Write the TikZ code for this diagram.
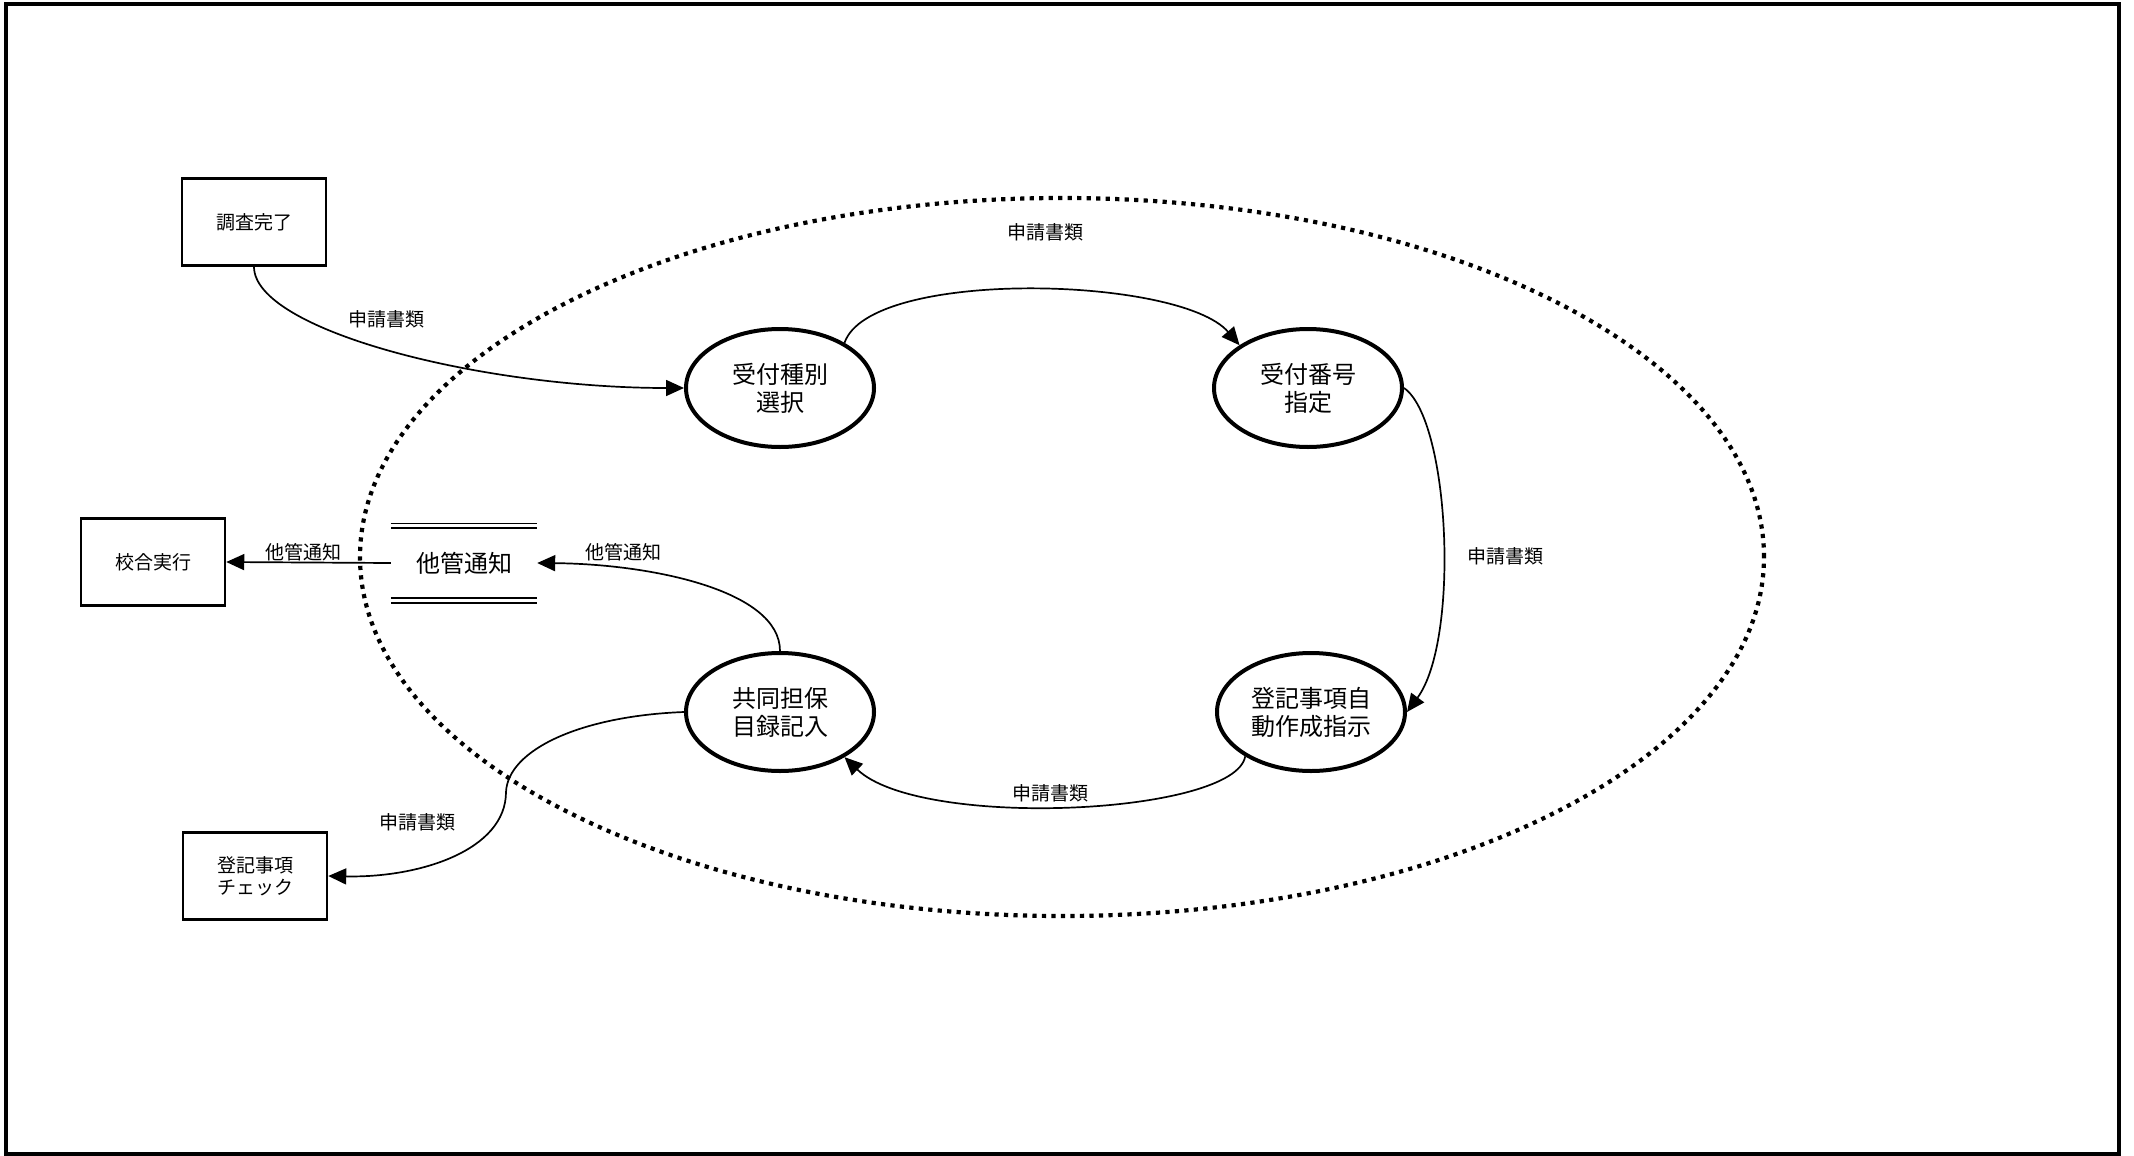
\documentclass[tikz,border=0pt]{standalone}
\usepackage{fontspec}
\newfontfamily\jp{Noto Sans CJK JP}
\usetikzlibrary{shapes.geometric,arrows.meta}
\begin{document}
\begin{tikzpicture}[x=1pt,y=-1pt,
  proc/.style={ellipse, draw, line width=4pt, minimum width=188pt, minimum height=118pt, inner sep=0pt, align=center, font=\jp\fontsize{24}{28}\selectfont},
  ext/.style={rectangle, draw, line width=2.5pt, minimum width=144pt, minimum height=87pt, inner sep=0pt, align=center, font=\jp\fontsize{19}{22}\selectfont},
  flow/.style={line width=1.7pt, -{Triangle[length=18pt,width=16pt]}},
  lbl/.style={font=\jp\fontsize{19}{22}\selectfont, inner sep=0pt},
  storeline/.style={double, double distance=3pt, line width=1.8pt},
  boundary/.style={line width=4.2pt, dash pattern=on 4.2pt off 5.3pt}
]
\useasboundingbox (0,0) rectangle (2134,1156);
\draw[line width=4.3pt] (6,4) rectangle (2119,1154);

% dotted system boundary
\draw[boundary] (1062,557) ellipse [x radius=702pt, y radius=359pt];

% processes
\node[proc] (A) at (780,388) {受付種別\\選択};
\node[proc] (B) at (1308,388) {受付番号\\指定};
\node[proc] (C) at (1311,712) {登記事項自\\動作成指示};
\node[proc] (D) at (780,712) {共同担保\\目録記入};

% externals
\node[ext] (chosa) at (254,222) {調査完了};
\node[ext] (kogo) at (153,562) {校合実行};
\node[ext] (chk) at (255,876) {登記事項\\チェック};

% data store
\node[minimum width=146pt, minimum height=74pt, inner sep=0pt, font=\jp\fontsize{24}{28}\selectfont] (store) at (464,563) {他管通知};
\draw[storeline] (store.north west) -- (store.north east);
\draw[storeline] (store.south west) -- (store.south east);

% flows
\draw[flow] (chosa.south) .. controls (254,330) and (480,388) .. (A.west);
\draw[flow] (A.35) .. controls (870,268) and (1180,276) .. (B.148);
\draw[flow] (B.east) .. controls (1450,420) and (1460,640) .. (C.east);
\draw[flow] (C.214) .. controls (1235,815) and (920,830) .. (D.325);
\draw[flow] (D.north) .. controls (780,590) and (650,564) .. (store.east);
\draw[flow] (store.west) -- (kogo.east);
\coordinate (bend) at (506,792);
\draw[flow] (D.west) .. controls (580,716) and (508,750) .. (bend) .. controls (506,850) and (420,878) .. (chk.east);

% labels
\node[lbl] (l1) at (386,319) {申請書類};
\node[lbl] (l2) at (1045,232) {申請書類};
\node[lbl] (l3) at (1505,556) {申請書類};
\node[lbl] (l4) at (1050,793) {申請書類};
\node[lbl] (l5) at (417,822) {申請書類};
\node[lbl] (l6) at (303,552) {他管通知};
\node[lbl] (l7) at (623,552) {他管通知};
\end{tikzpicture}
\end{document}
